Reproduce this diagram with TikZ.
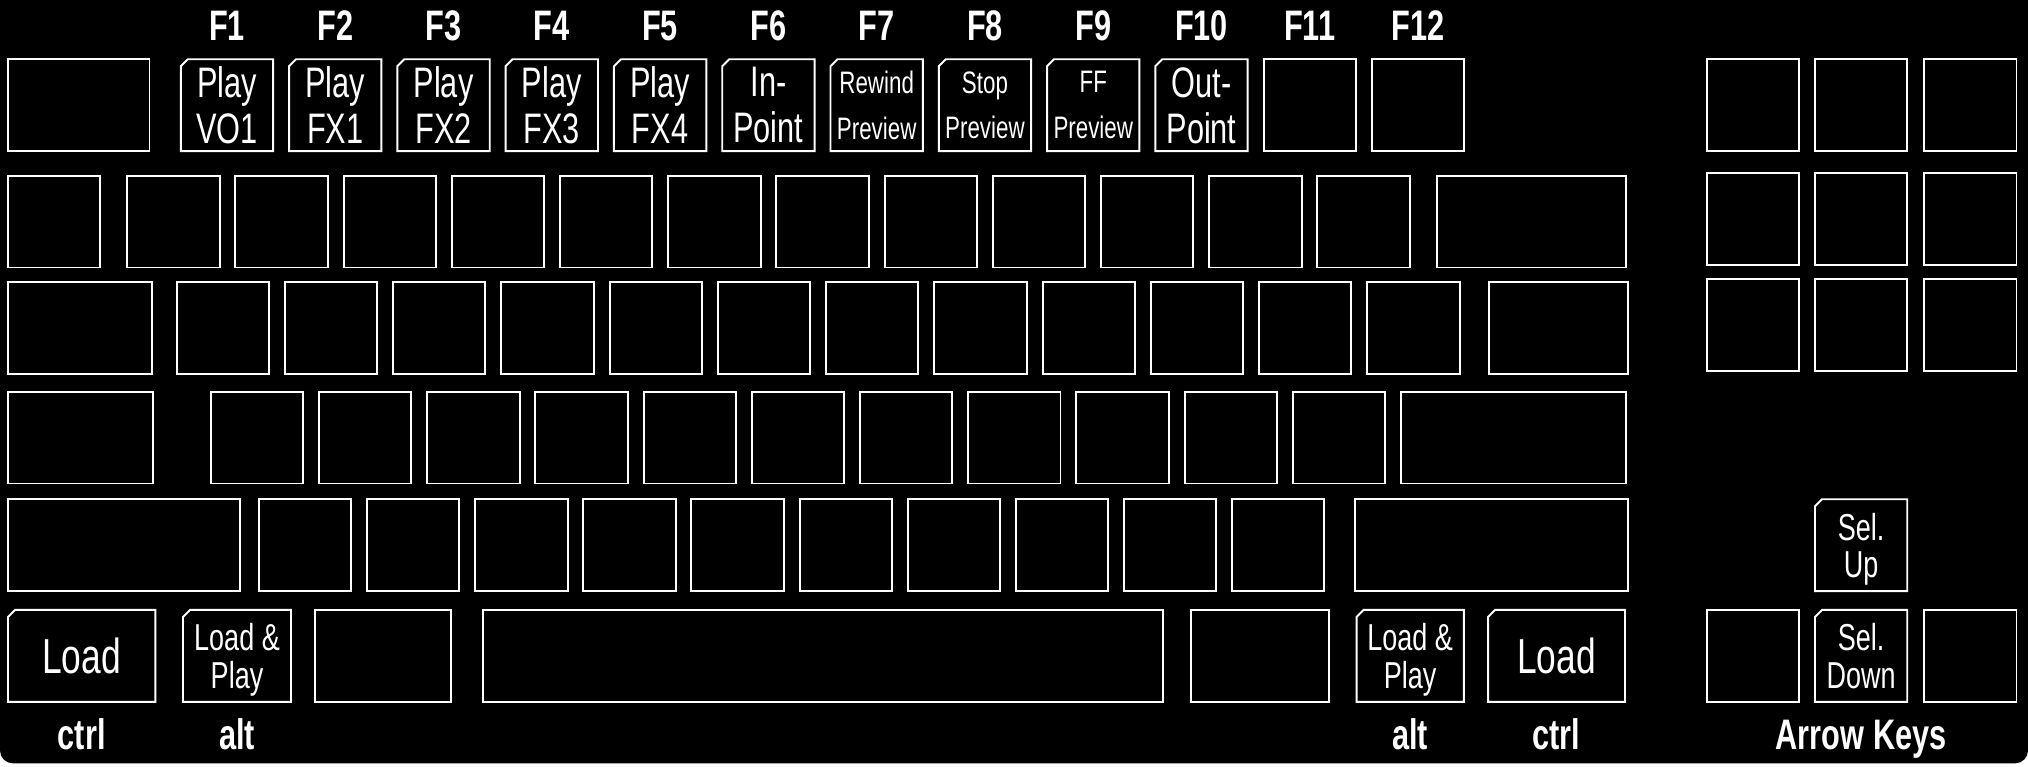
\documentclass[tikz,border=0pt]{standalone}
\usepackage{fontspec}
\usetikzlibrary{shapes.misc}
\newfontfamily\narrowsans[FakeStretch=0.72]{Liberation Sans}
\tikzset{
  keycap/.style={chamfered rectangle, chamfered rectangle corners=north west,
    chamfered rectangle xsep=2.5pt, chamfered rectangle angle=45,
    draw=white, line width=1.5pt, fill=black, inner sep=0pt, outer sep=0pt,
    anchor=south west, minimum width=71.4pt, minimum height=71pt,
    text=white, align=center, text depth=0pt,
    font=\narrowsans\fontsize{33}{35.5}\selectfont},
  tinykey/.style={keycap, font=\narrowsans\fontsize{24}{35.5}\selectfont},
  modkey/.style={keycap, font=\narrowsans\fontsize{29}{29}\selectfont},
  bigkey/.style={keycap, font=\narrowsans\fontsize{38}{40}\selectfont},
  keyname/.style={text=white, inner sep=0pt, anchor=base,
    font=\narrowsans\bfseries\fontsize{33}{36}\selectfont}
}
\begin{document}
\begin{tikzpicture}[x=1pt,y=-1pt]
\useasboundingbox (0,0) rectangle (1568,592.3);
\fill[white] (0,0) rectangle (1568,592.3);
\fill[black] (0,0) -- (1568,0) -- (1568,580.2) arc[start angle=0,end angle=-90,radius=10pt]
  -- (10,590.2) arc[start angle=-90,end angle=-180,radius=10pt] -- cycle;

% function keys
\node[keycap, minimum width=109.4pt] (esc) at (6.2,116.8) {};
\foreach \lbl/\sty [count=\i] in {{Play\\VO1}/keycap, {Play\\FX1}/keycap, {Play\\FX2}/keycap,
    {Play\\FX3}/keycap, {Play\\FX4}/keycap, {In-\\Point}/keycap, {Rewind\\Preview}/tinykey,
    {Stop\\Preview}/tinykey, {FF\\Preview}/tinykey, {Out-\\Point}/keycap, {}/keycap, {}/keycap} {
  \node[\sty] (f\i) at ({139.8+83.72*(\i-1)},116.8) {\lbl};
  \node[keyname] (fn\i) at ([yshift=14.4pt]f\i.north) {F\i};
}

% number row
\node[keycap, minimum width=70.8pt] (tilde) at (6.2,206.8) {};
\foreach \i in {1,...,12}
  \node[keycap] (num\i) at ({98.4+83.65*(\i-1)},206.8) {};
\node[keycap, minimum width=146.4pt] (bksp) at (1110.9,206.8) {};

% top letter row
\node[keycap, minimum width=111.2pt] (tab) at (6.2,289) {};
\foreach \i in {1,...,12}
  \node[keycap] (top\i) at ({136.5+83.7*(\i-1)},289) {};
\node[keycap, minimum width=106.9pt] (bslash) at (1151.5,289) {};

% home row
\node[keycap, minimum width=112.2pt] (caps) at (6.2,373.8) {};
\foreach \i in {1,...,11}
  \node[keycap] (home\i) at ({163+83.65*(\i-1)},373.8) {};
\node[keycap, minimum width=173.8pt] (enter) at (1083.3,373.8) {};

% bottom letter row
\node[keycap, minimum width=179.2pt] (lshift) at (6.2,457) {};
\foreach \i in {1,...,10}
  \node[keycap] (low\i) at ({200.2+83.6*(\i-1)},457) {};
\node[keycap, minimum width=210.6pt] (rshift) at (1047.8,457) {};

% space row
\node[bigkey, minimum width=113.9pt] (lctrl) at (6.2,542.6) {Load};
\node[modkey, minimum width=83.5pt] (lalt) at (141.5,542.6) {Load \&\\Play};
\node[keycap, minimum width=105.2pt] (lwin) at (243.4,542.6) {};
\node[keycap, minimum width=525.5pt] (space) at (373.5,542.6) {};
\node[keycap, minimum width=106.4pt] (rwin) at (921,542.6) {};
\node[modkey, minimum width=82.9pt] (ralt) at (1048.9,542.6) {Load \&\\Play};
\node[bigkey, minimum width=105.9pt] (rctrl) at (1150.5,542.6) {Load};

% navigation block
\foreach \y [count=\r] in {116.8,205,287}
  \foreach \x [count=\c] in {1319.8,1403.3,1487.8}
    \node[keycap, minimum width=71.3pt] (nav\r\c) at (\x,\y) {};
\node[modkey, minimum width=71.3pt] (selup) at (1403.3,457) {Sel.\\Up};
\node[keycap, minimum width=71.3pt] (left) at (1319.8,542.6) {};
\node[modkey, minimum width=71.3pt] (seldown) at (1403.3,542.6) {Sel.\\Down};
\node[keycap, minimum width=71.3pt] (right) at (1487.8,542.6) {};

% names under the keys
\node[keyname] (lctrlname) at ([yshift=-36.7pt]lctrl.south) {ctrl};
\node[keyname] (laltname) at ([yshift=-36.7pt]lalt.south) {alt};
\node[keyname] (raltname) at ([yshift=-36.7pt]ralt.south) {alt};
\node[keyname] (rctrlname) at ([yshift=-36.7pt]rctrl.south) {ctrl};
\node[keyname] (arrowname) at ([yshift=-36.7pt]seldown.south) {Arrow Keys};
\end{tikzpicture}
\end{document}
